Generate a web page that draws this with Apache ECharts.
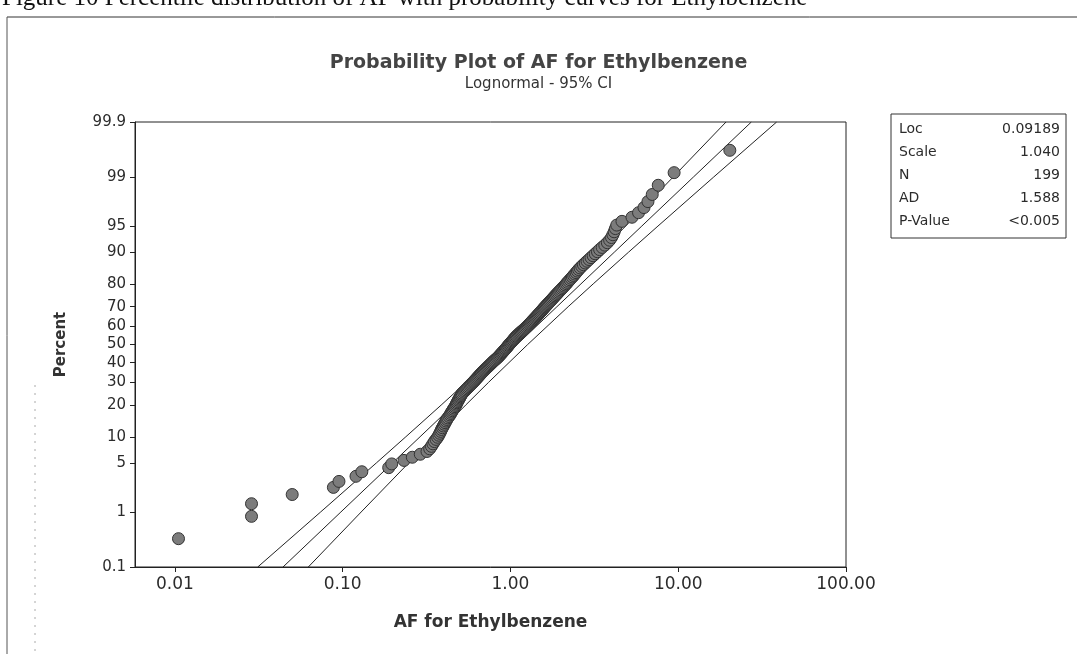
<!DOCTYPE html>
<html><head><meta charset="utf-8">
<script src="https://cdn.jsdelivr.net/npm/echarts@6/dist/echarts.min.js"></script>
<style>html,body{margin:0;padding:0;background:#fff}#c{width:1077px;height:654px}</style>
</head><body><div id="c"></div>
<script>
const afValues = [
0.0105,0.0286,0.0286,0.050,0.088,0.095,0.120,0.130,0.188,0.196,
0.232,0.260,0.290,0.318,0.330,0.338,0.345,0.352,0.360,0.368,
0.374,0.379,0.384,0.388,0.393,0.398,0.403,0.408,0.413,0.418,
0.423,0.430,0.436,0.441,0.446,0.451,0.456,0.462,0.467,0.472,
0.476,0.480,0.484,0.489,0.493,0.498,0.502,0.507,0.511,0.516,
0.525,0.533,0.541,0.549,0.557,0.565,0.574,0.582,0.590,0.599,
0.606,0.614,0.622,0.630,0.638,0.646,0.654,0.662,0.670,0.678,
0.688,0.697,0.706,0.716,0.726,0.736,0.746,0.756,0.766,0.776,
0.786,0.797,0.808,0.820,0.832,0.843,0.853,0.863,0.873,0.883,
0.893,0.903,0.913,0.923,0.933,0.943,0.953,0.963,0.973,0.983,
0.994,1.005,1.016,1.027,1.038,1.049,1.060,1.072,1.084,1.096,
1.112,1.128,1.144,1.160,1.177,1.194,1.211,1.228,1.245,1.262,
1.278,1.294,1.310,1.326,1.342,1.358,1.375,1.392,1.409,1.426,
1.444,1.462,1.480,1.498,1.516,1.535,1.554,1.573,1.592,1.612,
1.634,1.656,1.678,1.701,1.724,1.748,1.772,1.797,1.822,1.848,
1.876,1.904,1.932,1.962,1.992,2.023,2.055,2.088,2.122,2.156,
2.190,2.225,2.262,2.300,2.340,2.380,2.420,2.462,2.505,2.550,
2.60,2.66,2.72,2.79,2.86,2.94,3.02,3.11,3.20,3.30,
3.40,3.52,3.65,3.78,3.90,4.00,4.08,4.15,4.22,
4.30,4.62,5.30,5.80,6.25,6.60,7.00,7.60,9.45,20.3
];
// plotted percent (median rank) of each observation
const percentValues = [
0.35,0.85,1.35,1.86,2.36,2.86,3.36,3.86,4.36,4.86,
5.37,5.87,6.37,6.87,7.37,7.87,8.38,8.88,9.38,9.88,
10.38,10.88,11.38,11.89,12.39,12.89,13.39,13.89,14.39,14.90,
15.40,15.90,16.40,16.90,17.40,17.90,18.41,18.91,19.41,19.91,
20.41,20.91,21.41,21.92,22.42,22.92,23.42,23.92,24.42,24.92,
25.43,25.93,26.43,26.93,27.43,27.93,28.44,28.94,29.44,29.94,
30.44,30.94,31.45,31.95,32.45,32.95,33.45,33.95,34.45,34.95,
35.46,35.96,36.46,36.96,37.46,37.96,38.47,38.97,39.47,39.97,
40.47,40.97,41.47,41.98,42.48,42.98,43.48,43.98,44.48,44.99,
45.49,45.99,46.49,46.99,47.49,47.99,48.50,49.00,49.50,50.00,
50.50,51.00,51.50,52.01,52.51,53.01,53.51,54.01,54.51,55.02,
55.52,56.02,56.52,57.02,57.52,58.02,58.53,59.03,59.53,60.03,
60.53,61.03,61.53,62.04,62.54,63.04,63.54,64.04,64.54,65.05,
65.55,66.05,66.55,67.05,67.55,68.05,68.56,69.06,69.56,70.06,
70.56,71.06,71.56,72.07,72.57,73.07,73.57,74.07,74.57,75.08,
75.58,76.08,76.58,77.08,77.58,78.08,78.59,79.09,79.59,80.09,
80.59,81.09,81.59,82.10,82.60,83.10,83.60,84.10,84.60,85.11,
85.61,86.11,86.61,87.11,87.61,88.11,88.62,89.12,89.62,90.12,
90.62,91.12,91.62,92.13,92.63,93.13,93.63,94.13,94.63,
95.14,95.64,96.14,96.64,97.14,97.64,98.14,98.65,99.15,99.65
];
// fitted lognormal line and 95% CI (AF at given percent)
const ciPercents = [0.1,1,5,10,20,30,50,70,80,90,95,99,99.9];
const ciLower = [0.03115,0.07386,0.15874,0.23787,0.38613,0.54466,0.94876,1.62127,2.22332,3.4205,4.8593,9.3287,19.269];
const fitLine = [0.04407,0.09754,0.19813,0.28911,0.45685,0.63540,1.09624,1.89136,2.63056,4.1570,6.0654,12.3209,27.268];
const ciUpper = [0.06237,0.12882,0.24731,0.35134,0.54053,0.74126,1.26667,2.2065,3.1124,5.0521,7.5708,16.272,38.587];
const yTickPercents = [0.1,1,5,10,20,30,40,50,60,70,80,90,95,99,99.9];
const xTickValues = [0.01,0.1,1,10,100];
const statLabels = ['Loc','Scale','N','AD','P-Value'];
const statValues = ['0.09189','1.040','199','1.588','<0.005'];

function probit(p){
 const a=[-3.969683028665376e+01,2.209460984245205e+02,-2.759285104469687e+02,1.383577518672690e+02,-3.066479806614716e+01,2.506628277459239e+00];
 const b=[-5.447609879822406e+01,1.615858368580409e+02,-1.556989798598866e+02,6.680131188771972e+01,-1.328068155288572e+01];
 const c=[-7.784894002430293e-03,-3.223964580411365e-01,-2.400758277161838e+00,-2.549671010998854e+00,4.374664141464968e+00,2.938163982698783e+00];
 const d=[7.784695709041462e-03,3.224671290700398e-01,2.445134137142996e+00,3.754408661907416e+00];
 const pl=0.02425, ph=1-pl; let q,r;
 if(p<pl){q=Math.sqrt(-2*Math.log(p));return (((((c[0]*q+c[1])*q+c[2])*q+c[3])*q+c[4])*q+c[5])/((((d[0]*q+d[1])*q+d[2])*q+d[3])*q+1);}
 if(p<=ph){q=p-0.5;r=q*q;return (((((a[0]*r+a[1])*r+a[2])*r+a[3])*r+a[4])*r+a[5])*q/(((((b[0]*r+b[1])*r+b[2])*r+b[3])*r+b[4])*r+1);}
 q=Math.sqrt(-2*Math.log(1-p));return -(((((c[0]*q+c[1])*q+c[2])*q+c[3])*q+c[4])*q+c[5])/((((d[0]*q+d[1])*q+d[2])*q+d[3])*q+1);
}
const yTickZ = yTickPercents.map(p => probit(p/100));
const yMin = yTickZ[0], yMax = yTickZ[yTickZ.length-1];

const pts = afValues.map((v,i) => [v, probit(percentValues[i]/100)]);
const mkLine = arr => ciPercents.map((p,i) => [arr[i], probit(p/100)]);

const FONT = 'DejaVu Sans';
const TXT = '#2b2b2b';

const chart = echarts.init(document.getElementById('c'), null, {renderer:'canvas'});

const rowsY = [129,152,175,198,221];
const graphics = [
  {type:'text', left:2, top:-14, style:{text:'Figure 10 Percentile distribution of AF with probability curves for Ethylbenzene', font:'25px "Liberation Serif"', fill:'#111'}},
  {type:'line', shape:{x1:7,y1:17,x2:1077,y2:17}, style:{stroke:'#333', lineWidth:1}},
  {type:'line', shape:{x1:7,y1:17,x2:7,y2:654}, style:{stroke:'#555', lineWidth:1}},
  {type:'line', shape:{x1:35,y1:385,x2:35,y2:654}, style:{stroke:'#aaa', lineWidth:1, lineDash:[2,6]}},
  {type:'rect', shape:{x:891,y:114,width:175,height:124}, style:{fill:'#fff', stroke:'#333', lineWidth:1}}
];
statLabels.forEach((s,i) => {
  graphics.push({type:'text', x:899, y:rowsY[i], style:{text:s, font:'14px "'+FONT+'"', fill:TXT, textVerticalAlign:'middle', textAlign:'left'}});
  graphics.push({type:'text', x:1060, y:rowsY[i], style:{text:statValues[i], font:'14px "'+FONT+'"', fill:TXT, textVerticalAlign:'middle', textAlign:'right'}});
});

const lineStyle = {color:'#222', width:1};
chart.setOption({
  animation:false,
  backgroundColor:'#fff',
  title:{
    text:'Probability Plot of AF for Ethylbenzene',
    subtext:'Lognormal - 95% CI',
    left:'center', top:49, itemGap:4,
    textStyle:{fontFamily:FONT, fontSize:19, fontWeight:'bold', color:'#444'},
    subtextStyle:{fontFamily:FONT, fontSize:15, color:'#333'}
  },
  grid:{left:135, right:231, top:122, bottom:87, show:true, borderColor:'#222', borderWidth:1, backgroundColor:'#fff'},
  xAxis:{
    type:'log', logBase:10, min:0.00578, max:100,
    name:'AF for Ethylbenzene', nameLocation:'middle', nameGap:47,
    nameTextStyle:{fontFamily:FONT, fontSize:17, fontWeight:'bold', color:'#333'},
    axisLine:{show:true, onZero:false, lineStyle:{color:'#222'}},
    axisTick:{show:true, inside:false, length:5, lineStyle:{color:'#222'}},
    minorTick:{show:false},
    splitLine:{show:false},
    axisLabel:{showMinLabel:false, fontFamily:FONT, fontSize:17, color:TXT, margin:9,
      formatter:v => { for (const t of xTickValues) { if (Math.abs(Math.log10(v) - Math.log10(t)) < 1e-6) return t.toFixed(2);} return ''; }}
  },
  yAxis:{
    type:'value', min:yMin, max:yMax,
    name:'Percent', nameLocation:'middle', nameGap:66, nameRotate:90,
    nameTextStyle:{fontFamily:FONT, fontSize:15, fontWeight:'bold', color:'#333'},
    axisLine:{show:true, onZero:false, lineStyle:{color:'#222'}},
    axisTick:{show:true, length:5, lineStyle:{color:'#222'}, customValues:yTickZ},
    splitLine:{show:false},
    axisLabel:{fontFamily:FONT, fontSize:15, color:TXT, margin:9, customValues:yTickZ,
      formatter:v => { for (let i=0;i<yTickZ.length;i++){ if (Math.abs(yTickZ[i]-v) < 1e-6) return String(yTickPercents[i]); } return ''; }}
  },
  series:[
    {type:'line', data:mkLine(ciLower), showSymbol:false, symbol:'none', lineStyle, z:2, clip:true},
    {type:'line', data:mkLine(fitLine), showSymbol:false, symbol:'none', lineStyle, z:2, clip:true},
    {type:'line', data:mkLine(ciUpper), showSymbol:false, symbol:'none', lineStyle, z:2, clip:true},
    {type:'scatter', data:pts, symbol:'circle', symbolSize:12, z:3,
      itemStyle:{color:'#7c7c7c', borderColor:'#333', borderWidth:1, opacity:1}}
  ],
  graphic:graphics
});
</script></body></html>
